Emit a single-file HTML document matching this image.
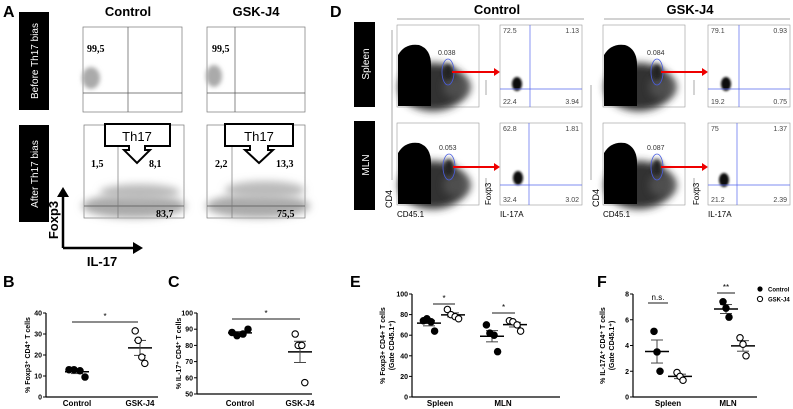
<!DOCTYPE html>
<html><head><meta charset="utf-8"><style>
html,body{margin:0;padding:0;background:#fff}
svg{display:block;font-family:"Liberation Sans",sans-serif}
</style></head><body>
<svg id="fig" width="793" height="409" viewBox="0 0 793 409" xmlns="http://www.w3.org/2000/svg">
<defs>
<filter id="b2" x="-50%" y="-50%" width="200%" height="200%"><feGaussianBlur stdDeviation="2"/></filter>
<filter id="b4" x="-50%" y="-50%" width="200%" height="200%"><feGaussianBlur stdDeviation="4"/></filter>
<filter id="b1" x="-50%" y="-50%" width="200%" height="200%"><feGaussianBlur stdDeviation="1"/></filter>
</defs>

<g font-weight="bold" font-size="16" fill="#000">
<text x="3" y="17">A</text><text x="330" y="17">D</text>
<text x="3" y="287">B</text><text x="168" y="287">C</text>
<text x="350" y="287">E</text><text x="597" y="287">F</text>
</g>

<g>
<text x="128" y="16" font-size="13" font-weight="bold" text-anchor="middle">Control</text>
<text x="256" y="16" font-size="13" font-weight="bold" text-anchor="middle">GSK-J4</text>
<rect x="19" y="12" width="30" height="98" fill="#000"/>
<text transform="translate(38,61) rotate(-90)" fill="#fff" font-size="10" text-anchor="middle">Before Th17 bias</text>
<rect x="19" y="125" width="30" height="97" fill="#000"/>
<text transform="translate(38,174) rotate(-90)" fill="#fff" font-size="10" text-anchor="middle">After Th17 bias</text>

<g>
<rect x="83" y="27" width="99" height="85" fill="none" stroke="#777" stroke-width="0.7"/>
<ellipse cx="91" cy="78" rx="9" ry="11" fill="#aaa" filter="url(#b2)"/>
<line x1="83" y1="93" x2="182" y2="93" stroke="#555" stroke-width="0.7"/>
<line x1="128" y1="27" x2="128" y2="112" stroke="#555" stroke-width="0.7"/>
<text x="87" y="52" font-family="Liberation Serif,serif" font-weight="bold" font-size="10">99,5</text>
</g>
<g>
<rect x="207" y="27" width="98" height="85" fill="none" stroke="#777" stroke-width="0.7"/>
<ellipse cx="214" cy="76" rx="8" ry="11" fill="#aaa" filter="url(#b2)"/>
<line x1="207" y1="93" x2="305" y2="93" stroke="#555" stroke-width="0.7"/>
<line x1="235" y1="27" x2="235" y2="112" stroke="#555" stroke-width="0.7"/>
<text x="212" y="52" font-family="Liberation Serif,serif" font-weight="bold" font-size="10">99,5</text>
</g>
<g>
<rect x="84" y="125" width="100" height="93" fill="none" stroke="#777" stroke-width="0.7"/>
<ellipse cx="134" cy="206" rx="52" ry="12" fill="#aaa" filter="url(#b4)"/>
<ellipse cx="140" cy="192" rx="40" ry="8" fill="#bbb" filter="url(#b4)"/>
<line x1="84" y1="206" x2="184" y2="206" stroke="#555" stroke-width="0.7"/>
<line x1="118" y1="125" x2="118" y2="218" stroke="#777" stroke-width="0.7"/>
<text x="91" y="167" font-family="Liberation Serif,serif" font-weight="bold" font-size="10">1,5</text>
<text x="149" y="167" font-family="Liberation Serif,serif" font-weight="bold" font-size="10">8,1</text>
<text x="156" y="217" font-family="Liberation Serif,serif" font-weight="bold" font-size="10">83,7</text>
</g>
<g>
<rect x="207" y="125" width="98" height="93" fill="none" stroke="#777" stroke-width="0.7"/>
<ellipse cx="258" cy="206" rx="52" ry="12" fill="#aaa" filter="url(#b4)"/>
<ellipse cx="265" cy="190" rx="40" ry="9" fill="#bbb" filter="url(#b4)"/>
<line x1="207" y1="206" x2="305" y2="206" stroke="#555" stroke-width="0.7"/>
<line x1="232" y1="125" x2="232" y2="218" stroke="#777" stroke-width="0.7"/>
<text x="215" y="167" font-family="Liberation Serif,serif" font-weight="bold" font-size="10">2,2</text>
<text x="276" y="167" font-family="Liberation Serif,serif" font-weight="bold" font-size="10">13,3</text>
<text x="277" y="217" font-family="Liberation Serif,serif" font-weight="bold" font-size="10">75,5</text>
</g>
<g>
<path d="M105,124 H170 V146 H145 V150 H150 L137,163 L124,150 H129 V146 H105 Z" fill="#fff" stroke="#000" stroke-width="2"/>
<text x="137" y="141" font-size="13" text-anchor="middle">Th17</text>
</g>
<g>
<path d="M225,124 H293 V146 H268 V150 H273 L259,163 L245,150 H250 V146 H225 Z" fill="#fff" stroke="#000" stroke-width="2"/>
<text x="259" y="141" font-size="13" text-anchor="middle">Th17</text>
</g>
<g>
<line x1="63" y1="248" x2="63" y2="195" stroke="#000" stroke-width="2.5"/>
<path d="M57,197 L63,187 L69,197 Z"/>
<line x1="63" y1="248" x2="135" y2="248" stroke="#000" stroke-width="2.5"/>
<path d="M133,242 L143,248 L133,254 Z"/>
<text transform="translate(58,220) rotate(-90)" font-size="13" font-weight="bold" text-anchor="middle">Foxp3</text>
<text x="102" y="266" font-size="13" font-weight="bold" text-anchor="middle">IL-17</text>
</g>
</g>

<g>
<text x="497" y="14" font-size="13" font-weight="bold" text-anchor="middle">Control</text>
<line x1="397" y1="19" x2="584" y2="19" stroke="#888" stroke-width="0.8"/>
<text x="690" y="14" font-size="13" font-weight="bold" text-anchor="middle">GSK-J4</text>
<line x1="604" y1="19" x2="790" y2="19" stroke="#888" stroke-width="0.8"/>
<rect x="354" y="22" width="21" height="85" fill="#000"/>
<text transform="translate(369,64) rotate(-90)" fill="#fff" font-size="10" text-anchor="middle">Spleen</text>
<rect x="354" y="121" width="21" height="89" fill="#000"/>
<text transform="translate(369,165) rotate(-90)" fill="#fff" font-size="10" text-anchor="middle">MLN</text>
<text transform="translate(392,208) rotate(-90)" font-size="9">CD4</text>
<line x1="392" y1="180" x2="392" y2="30" stroke="#555" stroke-width="0.5"/>
<g id="dplots"></g>
</g>

<g id="charts"></g>
</svg>
<script>
var NS='http://www.w3.org/2000/svg';
function mk(tag,attrs,parent,txt){var e=document.createElementNS(NS,tag);for(var k in attrs)e.setAttribute(k,attrs[k]);if(txt!==undefined)e.textContent=txt;parent.appendChild(e);return e;}

var dp=document.getElementById('dplots');
var cdPlots=[[397,25,'0.038',448,72],[397,123,'0.053',449,167],[603,25,'0.084',657,72],[603,123,'0.087',657,167]];
cdPlots.forEach(function(p,i){
  var g=mk('g',{},dp);
  
  
  mk('rect',{x:p[0],y:p[1],width:82,height:82,fill:'none',stroke:'#999','stroke-width':0.6},g);
  mk('ellipse',{cx:p[0]+36,cy:p[1]+62,rx:34,ry:24,fill:'#333',filter:'url(#b4)'},g);
  mk('path',{d:'M'+(p[0]+1)+','+(p[1]+81)+' V'+(p[1]+30)+' Q'+(p[0]+8)+','+(p[1]+18)+' '+(p[0]+22)+','+(p[1]+20)+' Q'+(p[0]+34)+','+(p[1]+24)+' '+(p[0]+34)+','+(p[1]+40)+' V'+(p[1]+81)+' Z',fill:'#000'},g);
  mk('ellipse',{cx:p[0]+60,cy:p[1]+62,rx:14,ry:12,fill:'#555',filter:'url(#b4)',opacity:0.8},g);
  mk('ellipse',{cx:p[3],cy:p[4],rx:5,ry:8,fill:'#222',filter:'url(#b2)'},g);
  mk('ellipse',{cx:p[3],cy:p[4],rx:6,ry:13,fill:'none',stroke:'#4a5ee0','stroke-width':0.8},g);
  mk('text',{x:p[3]-10,y:p[4]-17,'font-size':7,fill:'#333'},g,p[2]);
  var arrowStart=p[3]+4, endX=(i<2?494:702);
  mk('line',{x1:arrowStart,y1:p[4],x2:endX,y2:p[4],stroke:'#e00','stroke-width':2},g);
  mk('path',{d:'M'+endX+','+(p[4]-4)+' L'+(endX+6)+','+p[4]+' L'+endX+','+(p[4]+4)+' Z',fill:'#e00'},g);
});
mk('text',{x:397,y:217,'font-size':8},dp,'CD45.1');
mk('text',{x:603,y:217,'font-size':8},dp,'CD45.1');
mk('text',{transform:'translate(599,207) rotate(-90)','font-size':9},dp,'CD4');
mk('line',{x1:591,y1:180,x2:591,y2:85,stroke:'#555','stroke-width':0.5},dp);

var foxPlots=[[500,25,530,89,'72.5','1.13','22.4','3.94',517,84],[500,123,529,185,'62.8','1.81','32.4','3.02',518,178],[708,25,739,89,'79.1','0.93','19.2','0.75',726,84],[708,123,737,185,'75','1.37','21.2','2.39',724,180]];
foxPlots.forEach(function(p,i){
  var g=mk('g',{},dp);
  
  
  mk('rect',{x:p[0],y:p[1],width:82,height:82,fill:'none',stroke:'#999','stroke-width':0.6},g);
  mk('ellipse',{cx:p[8],cy:p[9],rx:5,ry:7,fill:'#111',filter:'url(#b1)'},g);
  mk('line',{x1:p[2],y1:p[1],x2:p[2],y2:p[1]+82,stroke:'#5566ee','stroke-width':0.7},g);
  mk('line',{x1:p[0],y1:p[3],x2:p[0]+82,y2:p[3],stroke:'#5566ee','stroke-width':0.7},g);
  mk('text',{x:p[0]+3,y:p[1]+8,'font-size':7,fill:'#444'},g,p[4]);
  mk('text',{x:p[0]+79,y:p[1]+8,'font-size':7,fill:'#444','text-anchor':'end'},g,p[5]);
  mk('text',{x:p[0]+3,y:p[1]+79,'font-size':7,fill:'#444'},g,p[6]);
  mk('text',{x:p[0]+79,y:p[1]+79,'font-size':7,fill:'#444','text-anchor':'end'},g,p[7]);
  mk('line',{x1:p[0]-14,y1:p[1]+70,x2:p[0]-14,y2:p[1]+55,stroke:'#555','stroke-width':0.5},g);
});
[[500,217],[708,217]].forEach(function(q){mk('text',{x:q[0],y:q[1],'font-size':8},dp,'IL-17A');});
[[491,205],[699,205]].forEach(function(q){mk('text',{transform:'translate('+q[0]+','+q[1]+') rotate(-90)','font-size':8},dp,'Foxp3');});

var bCategories=['Control','GSK-J4'];
var bControl=[13,13,12.5,9.5];
var bGsk=[31.5,27,19,16];
var bTicks=[0,10,20,30,40];

var cCategories=['Control','GSK-J4'];
var cControl=[88,86,87,90];
var cGsk=[87,80,80,57];
var cTicks=[50,60,70,80,90,100];

var eCategories=['Spleen','MLN'];
var eControlSpleen=[74,76,73,64];
var eGskSpleen=[85,80,78,76];
var eControlMln=[70,62,60,44];
var eGskMln=[74,73,70,64];
var eTicks=[0,20,40,60,80,100];

var fCategories=['Spleen','MLN'];
var fControlSpleen=[5.1,3.5,2.0];
var fGskSpleen=[1.9,1.6,1.3];
var fControlMln=[7.4,6.9,6.2];
var fGskMln=[4.6,4.1,3.2];
var fTicks=[0,2,4,6,8];

var jit4=[-8,-3,3,8], jit3=[-5,0,5];
var root=document.getElementById('charts');

function stats(a){var m=a.reduce(function(s,v){return s+v;},0)/a.length;var sd=Math.sqrt(a.reduce(function(s,v){return s+(v-m)*(v-m);},0)/(a.length-1));return [m,sd/Math.sqrt(a.length)];}

function chart(o){
  var g=mk('g',{},root);
  
  
  function y(v){return o.yb-(v-o.min)/(o.max-o.min)*(o.yb-o.yt);}
  mk('line',{x1:o.ax,y1:o.yt,x2:o.ax,y2:o.yb,stroke:'#000','stroke-width':1.2},g);
  mk('line',{x1:o.ax,y1:o.yb,x2:o.axEnd,y2:o.yb,stroke:'#000','stroke-width':1.2},g);
  o.ticks.forEach(function(t){
    mk('line',{x1:o.ax-3,y1:y(t),x2:o.ax,y2:y(t),stroke:'#000','stroke-width':1},g);
    var tl=mk('text',{x:o.ax-4,y:y(t)+2.5,'font-size':7,'font-weight':'bold','text-anchor':'end'},g,String(t));
    
    
  });
  o.cats.forEach(function(c,i){
    var xl=mk('text',{x:o.cx[i],y:406,'font-size':8,'font-weight':'bold','text-anchor':'middle'},g,c);
    
    
  });
  var yl=mk('text',{transform:'translate('+o.lx+','+((o.yt+o.yb)/2)+') rotate(-90)','font-size':7,'font-weight':'bold','text-anchor':'middle'},g);
  
  
  o.label.forEach(function(l,k){mk('tspan',{x:0,dy:k?9:0},yl,l);});
  o.groups.forEach(function(gr){
    var st=stats(gr.vals), jit=gr.vals.length===4?jit4:jit3;
    mk('line',{x1:gr.x-12,y1:y(st[0]),x2:gr.x+12,y2:y(st[0]),stroke:'#000','stroke-width':1.5},g);
    mk('line',{x1:gr.x,y1:y(st[0]-st[1]),x2:gr.x,y2:y(st[0]+st[1]),stroke:'#444','stroke-width':1},g);
    mk('line',{x1:gr.x-6,y1:y(st[0]+st[1]),x2:gr.x+6,y2:y(st[0]+st[1]),stroke:'#444','stroke-width':1},g);
    mk('line',{x1:gr.x-6,y1:y(st[0]-st[1]),x2:gr.x+6,y2:y(st[0]-st[1]),stroke:'#444','stroke-width':1},g);
    gr.vals.forEach(function(v,k){
      var pt=mk('circle',{cx:gr.x+jit[k]*gr.js,cy:y(v),r:3.2,fill:gr.open?'#fff':'#000',stroke:'#000','stroke-width':1.1},g);
      
      
    });
  });
  (o.sig||[]).forEach(function(s){
    mk('line',{x1:s[0],y1:s[2],x2:s[1],y2:s[2],stroke:'#666','stroke-width':1.5},g);
    mk('text',{x:(s[0]+s[1])/2,y:s[2]-3,'font-size':8,'text-anchor':'middle'},g,s[3]);
  });
}

chart({name:'chart-b',ax:46,axEnd:158,yt:313,yb:397,min:0,max:40,ticks:bTicks,cats:bCategories,cx:[77,140],lx:30,
  label:['% Foxp3\u207A CD4\u207A T cells'],
  groups:[{x:77,vals:bControl,js:1},{x:140,vals:bGsk,open:true,js:0.6}],
  sig:[[72,138,322,'*']]});
chart({name:'chart-c',ax:197,axEnd:312,yt:313,yb:394,min:50,max:100,ticks:cTicks,cats:cCategories,cx:[240,300],lx:181,
  label:['% IL-17\u207A CD4\u207A T cells'],
  groups:[{x:240,vals:cControl,js:1},{x:300,vals:cGsk,open:true,js:0.6}],
  sig:[[232,300,319,'*']]});
chart({name:'chart-e',ax:412,axEnd:560,yt:294,yb:397,min:0,max:100,ticks:eTicks,cats:eCategories,cx:[440,503],lx:385,
  label:['% Foxp3+ CD4+ T cells','(Gate CD45.1\u207A)'],
  groups:[{x:429,vals:eControlSpleen,js:0.7},{x:453,vals:eGskSpleen,open:true,js:0.7},{x:492,vals:eControlMln,js:0.7},{x:515,vals:eGskMln,open:true,js:0.7}],
  sig:[[433,455,304,'*'],[492,515,313,'*']]});
chart({name:'chart-f',ax:633,axEnd:757,yt:294,yb:397,min:0,max:8,ticks:fTicks,cats:fCategories,cx:[668,728],lx:605,
  label:['% IL-17A\u207A CD4\u207A T cells','(Gate CD45.1\u207A)'],
  groups:[{x:657,vals:fControlSpleen,js:0.6},{x:680,vals:fGskSpleen,open:true,js:0.6},{x:726,vals:fControlMln,js:0.6},{x:743,vals:fGskMln,open:true,js:0.6}],
  sig:[[648,668,303,'n.s.'],[717,735,293,'**']]});

var lg=mk('g',{},root);


mk('circle',{cx:760,cy:289,r:2.6,fill:'#000'},lg);
mk('text',{x:768,y:291.5,'font-size':6,'font-weight':'bold'},lg,'Control');
mk('circle',{cx:760,cy:299,r:2.6,fill:'#fff',stroke:'#000','stroke-width':1},lg);
mk('text',{x:768,y:301.5,'font-size':6,'font-weight':'bold'},lg,'GSK-J4');
</script>
</body></html>
